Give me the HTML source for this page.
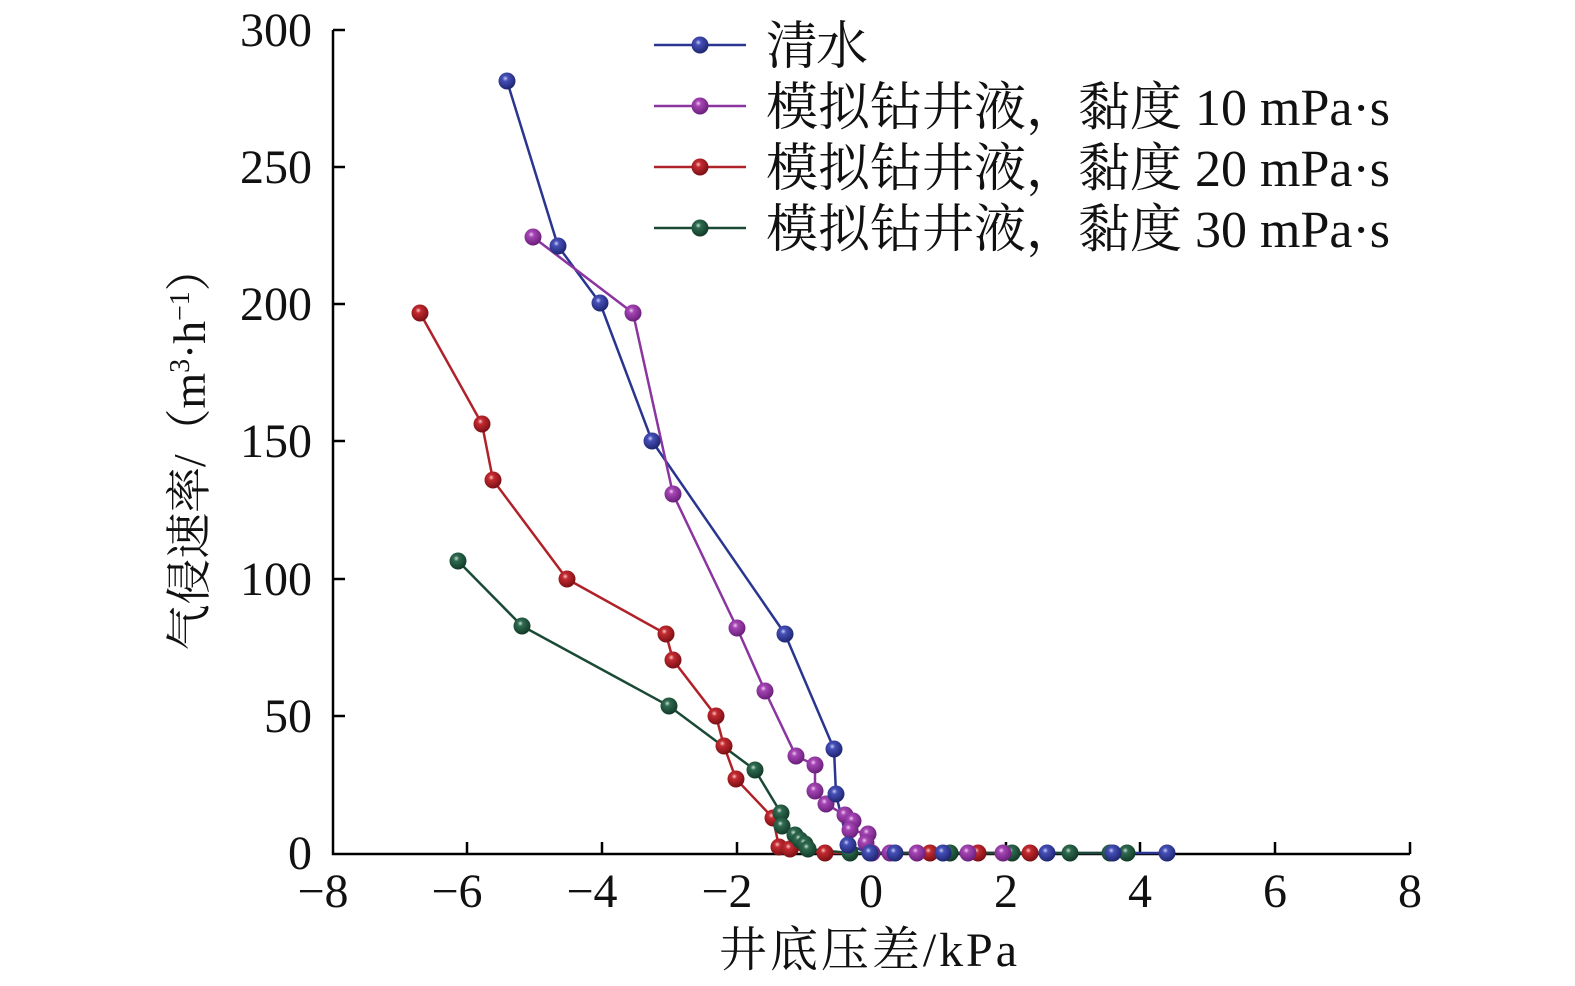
<!DOCTYPE html>
<html><head><meta charset="utf-8"><style>html,body{margin:0;padding:0;background:#fff}svg{display:block}</style></head>
<body>
<svg width="1575" height="986" viewBox="0 0 1575 986" xmlns="http://www.w3.org/2000/svg" font-family="'Liberation Serif','Noto Serif CJK SC',serif">
<defs>
<radialGradient id="gb" cx="0.4" cy="0.35" r="0.65"><stop offset="0" stop-color="#c8cdf5"/><stop offset="0.25" stop-color="#4650b8"/><stop offset="1" stop-color="#1e2670"/></radialGradient>
<radialGradient id="gp" cx="0.4" cy="0.35" r="0.65"><stop offset="0" stop-color="#f0c8f0"/><stop offset="0.25" stop-color="#a545b5"/><stop offset="1" stop-color="#6a1f7a"/></radialGradient>
<radialGradient id="gr" cx="0.4" cy="0.35" r="0.65"><stop offset="0" stop-color="#f5c8c8"/><stop offset="0.25" stop-color="#c42a30"/><stop offset="1" stop-color="#7a1015"/></radialGradient>
<radialGradient id="gg" cx="0.4" cy="0.35" r="0.65"><stop offset="0" stop-color="#c8e0d5"/><stop offset="0.25" stop-color="#2f6a50"/><stop offset="1" stop-color="#123a28"/></radialGradient>
</defs>
<g stroke="#000" stroke-width="2.5" fill="none">
<path d="M333,30 V854 H1410"/>
<path d="M333,30 h12 M333,167 h12 M333,304 h12 M333,441 h12 M333,579 h12 M333,716 h12"/>
<path d="M467,854 v-12 M602,854 v-12 M737,854 v-12 M871,854 v-12 M1006,854 v-12 M1140,854 v-12 M1275,854 v-12 M1410,854 v-12"/>
</g>
<g font-size="48" text-anchor="end" fill="#111">
<text x="312" y="46">300</text><text x="312" y="183">250</text><text x="312" y="320">200</text><text x="312" y="457">150</text><text x="312" y="595">100</text><text x="312" y="732">50</text><text x="312" y="869">0</text>
</g>
<g font-size="48" text-anchor="middle" fill="#111">
<text x="323" y="907">−8</text><text x="457" y="907">−6</text><text x="592" y="907">−4</text><text x="727" y="907">−2</text><text x="871" y="907">0</text><text x="1006" y="907">2</text><text x="1140" y="907">4</text><text x="1275" y="907">6</text><text x="1410" y="907">8</text>
</g>
<text x="868" y="966" font-size="48" text-anchor="middle" fill="#111" textLength="298">井底压差/kPa</text>
<text transform="translate(205,448) rotate(-90)" font-size="46" text-anchor="middle" fill="#111" textLength="405">气侵速率/（m<tspan font-size="28" dy="-16">3</tspan><tspan dy="16">·h</tspan><tspan font-size="28" dy="-16">−1</tspan><tspan dy="16">）</tspan></text>
<g fill="none" stroke-width="2.5">
<polyline stroke="#2a3590" points="507,81 558,246 600,303 652,441 785,634 834,749 836,794 848,845 870,853 895,853 943,853 1047,853 1113,853 1167,853"/>
<polyline stroke="#8a35a0" points="533,237 633,313 673,494 737,628 765,691 796,756 815,765 815,791 826,804 845,815 853,821 850,830 868,834 866,843 872,853 890,853 917,853 968,853 1003,853"/>
<polyline stroke="#b0222a" points="420,313 482,424 493,480 567,579 666,634 673,660 716,716 724,746 736,779 773,818 779,847 790,849 825,853 930,853 978,853 1030,853"/>
<polyline stroke="#1a4a36" points="458,561 522,626 669,706 755,770 781,813 782,826 795,835 800,840 805,844 808,849 850,853 950,853 1012,853 1070,853 1110,853 1127,853"/>
</g>
<g>
<g fill="url(#gr)"><circle cx="420" cy="313" r="8.5"/><circle cx="482" cy="424" r="8.5"/><circle cx="493" cy="480" r="8.5"/><circle cx="567" cy="579" r="8.5"/><circle cx="666" cy="634" r="8.5"/><circle cx="673" cy="660" r="8.5"/><circle cx="716" cy="716" r="8.5"/><circle cx="724" cy="746" r="8.5"/><circle cx="736" cy="779" r="8.5"/><circle cx="773" cy="818" r="8.5"/><circle cx="779" cy="847" r="8.5"/><circle cx="790" cy="849" r="8.5"/><circle cx="825" cy="853" r="8.5"/><circle cx="930" cy="853" r="8.5"/><circle cx="978" cy="853" r="8.5"/><circle cx="1030" cy="853" r="8.5"/></g>
<g fill="url(#gg)"><circle cx="458" cy="561" r="8.5"/><circle cx="522" cy="626" r="8.5"/><circle cx="669" cy="706" r="8.5"/><circle cx="755" cy="770" r="8.5"/><circle cx="781" cy="813" r="8.5"/><circle cx="782" cy="826" r="8.5"/><circle cx="795" cy="835" r="8.5"/><circle cx="800" cy="840" r="8.5"/><circle cx="805" cy="844" r="8.5"/><circle cx="808" cy="849" r="8.5"/><circle cx="850" cy="853" r="8.5"/><circle cx="950" cy="853" r="8.5"/><circle cx="1012" cy="853" r="8.5"/><circle cx="1070" cy="853" r="8.5"/><circle cx="1110" cy="853" r="8.5"/><circle cx="1127" cy="853" r="8.5"/></g>
<g fill="url(#gp)"><circle cx="533" cy="237" r="8.5"/><circle cx="633" cy="313" r="8.5"/><circle cx="673" cy="494" r="8.5"/><circle cx="737" cy="628" r="8.5"/><circle cx="765" cy="691" r="8.5"/><circle cx="796" cy="756" r="8.5"/><circle cx="815" cy="765" r="8.5"/><circle cx="815" cy="791" r="8.5"/><circle cx="826" cy="804" r="8.5"/><circle cx="845" cy="815" r="8.5"/><circle cx="853" cy="821" r="8.5"/><circle cx="850" cy="830" r="8.5"/><circle cx="868" cy="834" r="8.5"/><circle cx="866" cy="843" r="8.5"/><circle cx="872" cy="853" r="8.5"/><circle cx="890" cy="853" r="8.5"/><circle cx="917" cy="853" r="8.5"/><circle cx="968" cy="853" r="8.5"/><circle cx="1003" cy="853" r="8.5"/></g>
<g fill="url(#gb)"><circle cx="507" cy="81" r="8.5"/><circle cx="558" cy="246" r="8.5"/><circle cx="600" cy="303" r="8.5"/><circle cx="652" cy="441" r="8.5"/><circle cx="785" cy="634" r="8.5"/><circle cx="834" cy="749" r="8.5"/><circle cx="836" cy="794" r="8.5"/><circle cx="848" cy="845" r="8.5"/><circle cx="870" cy="853" r="8.5"/><circle cx="895" cy="853" r="8.5"/><circle cx="943" cy="853" r="8.5"/><circle cx="1047" cy="853" r="8.5"/><circle cx="1113" cy="853" r="8.5"/><circle cx="1167" cy="853" r="8.5"/></g>
</g>
<g stroke-width="2.5">
<line x1="654" y1="45" x2="746" y2="45" stroke="#2a3590"/><circle cx="700" cy="45" r="8.5" fill="url(#gb)"/>
<line x1="654" y1="106" x2="746" y2="106" stroke="#8a35a0"/><circle cx="700" cy="106" r="8.5" fill="url(#gp)"/>
<line x1="654" y1="167" x2="746" y2="167" stroke="#b0222a"/><circle cx="700" cy="167" r="8.5" fill="url(#gr)"/>
<line x1="654" y1="228" x2="746" y2="228" stroke="#1a4a36"/><circle cx="700" cy="228" r="8.5" fill="url(#gg)"/>
</g>
<g font-size="52" fill="#111">
<text x="766" y="64" textLength="102">清水</text>
<text x="766" y="125">模拟钻井液，黏度 10 mPa·s</text>
<text x="766" y="186">模拟钻井液，黏度 20 mPa·s</text>
<text x="766" y="247">模拟钻井液，黏度 30 mPa·s</text>
</g>
</svg>
</body></html>
